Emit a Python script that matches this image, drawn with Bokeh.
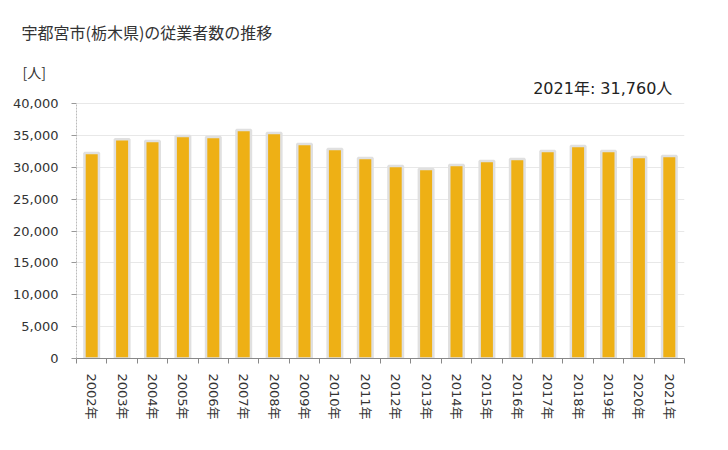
from bokeh.plotting import figure
from bokeh.models import (Range1d, LinearAxis, FixedTicker, CustomJSTickFormatter,
                          NumeralTickFormatter, Title, Label, ColumnDataSource)
from bokeh.embed import file_html
from bokeh.resources import INLINE
import numpy as np

years = [2002, 2003, 2004, 2005, 2006, 2007, 2008, 2009, 2010, 2011,
         2012, 2013, 2014, 2015, 2016, 2017, 2018, 2019, 2020, 2021]
workers = [32250, 34400, 34130, 34920, 34760, 35860, 35390, 33660, 32880, 31460,
           30200, 29730, 30360, 30990, 31300, 32560, 33350, 32560, 31620, 31760]
year_labels = [f"{y}年" for y in years]
y_ticks = [0, 5000, 10000, 15000, 20000, 25000, 30000, 35000, 40000]
title_text = "宇都宮市(栃木県)の従業者数の推移"
unit_text = "[人]"

n = len(years)
xpos = np.arange(n) + 0.5
src = ColumnDataSource(dict(x=xpos, top=workers))

JP = "'DejaVu Sans', 'Noto Sans CJK JP'"
TXT = "#333333"

# frame extends above 40,000 to hold the latest-value note
p = figure(width=720, height=442, output_backend="svg", toolbar_location=None,
           x_range=Range1d(0, n), y_range=Range1d(0, 43451),
           x_axis_location=None, y_axis_location=None,
           min_border_left=76, min_border_right=36, min_border_top=81, min_border_bottom=84)
p.outline_line_color = None
p.background_fill_color = "white"
p.border_fill_color = "white"

# bars with light halo
p.vbar(x="x", top="top", width=0.477, bottom=0, source=src,
       fill_color="#eeb015", line_color="#e0e0e0", line_width=2.5)

# y axis
yax = LinearAxis(ticker=FixedTicker(ticks=y_ticks), bounds=(0, 40000),
                 formatter=NumeralTickFormatter(format="0,0"))
yax.axis_line_color = "#bbbbbb"
yax.axis_line_dash = "2 1"
yax.major_tick_line_color = "#999999"
yax.major_tick_out = 5
yax.major_tick_in = 0
yax.minor_tick_line_color = None
yax.major_label_text_font = JP
yax.major_label_text_font_size = "13px"
yax.major_label_text_color = TXT
yax.major_label_standoff = 13
p.add_layout(yax, "left")

# x axis: labels at centers, boundary ticks via minor ticks
xax = LinearAxis(ticker=FixedTicker(ticks=list(xpos), minor_ticks=list(range(n + 1))),
                 formatter=CustomJSTickFormatter(args=dict(labels=year_labels),
                                                 code="return labels[Math.floor(tick)];"))
xax.axis_line_color = "#888888"
xax.major_tick_out = 0
xax.major_tick_in = 0
xax.minor_tick_line_color = "#888888"
xax.minor_tick_out = 5
xax.minor_tick_in = 0
xax.major_label_orientation = "vertical"
xax.major_label_text_font = JP
xax.major_label_text_font_size = "13px"
xax.major_label_text_color = TXT
xax.major_label_standoff = 10
p.add_layout(xax, "below")

p.ygrid.ticker = FixedTicker(ticks=y_ticks)
p.ygrid.grid_line_color = "#e8e8e8"
p.xgrid.grid_line_color = None

# latest-value note inside the frame (data units)
p.add_layout(Label(x=19.6, y=42353, text=f"{years[-1]}年: {workers[-1]:,}人",
                   text_font=JP, text_font_size="16px",
                   text_color="#222222", text_baseline="middle", text_align="right"))

# unit and title as title panels
unit = Title(text=unit_text, align="left", offset=-54,
             text_font="'Noto Sans CJK JP'", text_font_size="14px", text_font_style="normal",
             text_color=TXT, standoff=0)
p.add_layout(unit, "above")
p.title.text = title_text
p.title.align = "left"
p.title.offset = -55
p.title.text_font = "'Noto Sans CJK JP'"
p.title.text_font_size = "16px"
p.title.text_font_style = "normal"
p.title.text_color = TXT
p.title.standoff = 32

open("out.html", "w").write(file_html(p, INLINE))
